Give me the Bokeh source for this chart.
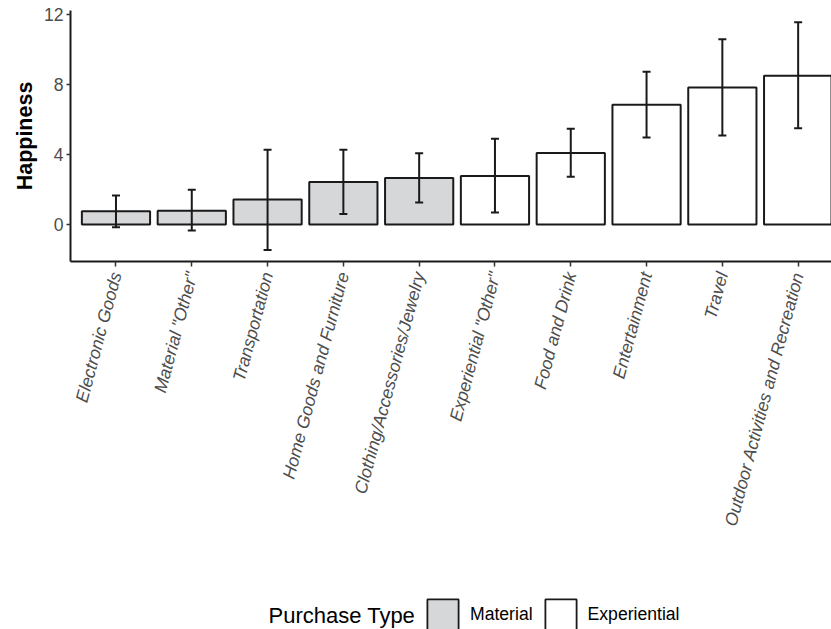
import math
from bokeh.plotting import figure
from bokeh.layouts import column
from bokeh.models import (ColumnDataSource, Range1d, FixedTicker, Whisker, TeeHead,
                          Label, Legend, LegendItem)
from bokeh.embed import file_html
from bokeh.resources import INLINE

categories = ["Electronic Goods", 'Material "Other"', "Transportation",
              "Home Goods and Furniture", "Clothing/Accessories/Jewelry",
              'Experiential "Other"', "Food and Drink", "Entertainment",
              "Travel", "Outdoor Activities and Recreation"]
purchase_type = ["Material"] * 5 + ["Experiential"] * 5
means = [0.76, 0.80, 1.43, 2.44, 2.67, 2.78, 4.10, 6.86, 7.85, 8.51]
lower = [-0.15, -0.34, -1.45, 0.61, 1.26, 0.69, 2.74, 4.99, 5.10, 5.52]
upper = [1.66, 2.00, 4.29, 4.29, 4.08, 4.91, 5.49, 8.74, 10.61, 11.58]
y_ticks = [0, 4, 8, 12]
legend_types = ["Material", "Experiential"]

type_colors = {"Material": "#D6D7D9", "Experiential": "#FFFFFF"}
positions = list(range(1, len(categories) + 1))

src = ColumnDataSource(dict(
    x=positions, mean=means, lower=lower, upper=upper, ptype=purchase_type,
    color=[type_colors[t] for t in purchase_type],
))

FONT = "Liberation Sans"
LINE = "#1A1A1A"
W = 831
LEG_H = 70
MAIN_H = 629 - LEG_H
FRAME_LEFT = 70

p = figure(width=W, height=MAIN_H, title=None,
           x_range=Range1d(0.4, 10.44), y_range=Range1d(-2.11, 12.25),
           output_backend="svg", toolbar_location=None,
           min_border_left=FRAME_LEFT, min_border_right=0, min_border_top=10,
           min_border_bottom=MAIN_H - 261)
p.outline_line_color = None
p.xgrid.visible = False
p.ygrid.visible = False
p.background_fill_color = "white"
p.border_fill_color = "white"

p.vbar(x="x", top="mean", bottom=0, width=0.9, source=src, fill_color="color",
       line_color=LINE, line_width=2)

head_kw = dict(size=8, line_width=2, line_color=LINE)
wh = Whisker(base="x", upper="upper", lower="lower", source=src,
             line_color=LINE, line_width=2,
             upper_head=TeeHead(**head_kw), lower_head=TeeHead(**head_kw))
wh.level = "annotation"
p.add_layout(wh)

# axes
xa = p.xaxis[0]
xa.ticker = FixedTicker(ticks=positions)
xa.major_label_overrides = {pos: lab for pos, lab in zip(positions, categories)}
xa.major_label_orientation = math.radians(75)
xa.major_label_text_font = FONT
xa.major_label_text_font_style = "italic"
xa.major_label_text_font_size = "17.6px"
xa.major_label_text_color = "#4D4D4D"
xa.minor_tick_line_color = None
xa.major_tick_in = 0
xa.major_tick_out = 5
xa.major_tick_line_color = "#333333"
xa.major_tick_line_width = 1.5
xa.major_label_standoff = 6
xa.axis_line_color = LINE
xa.axis_line_width = 2

ya = p.yaxis[0]
ya.ticker = FixedTicker(ticks=y_ticks)
ya.axis_label = "Happiness"
ya.axis_label_text_font = FONT
ya.axis_label_text_font_style = "bold"
ya.axis_label_text_font_size = "21.5px"
ya.axis_label_text_color = "#000000"
ya.axis_label_standoff = 4
ya.major_label_text_font = FONT
ya.major_label_text_font_size = "17.6px"
ya.major_label_text_color = "#4D4D4D"
ya.minor_tick_line_color = None
ya.major_tick_in = 0
ya.major_tick_out = 4
ya.major_tick_line_color = "#333333"
ya.major_tick_line_width = 1.5
ya.major_label_standoff = 3
ya.axis_line_color = LINE
ya.axis_line_width = 2

# legend strip below the chart (its frame is aligned with the chart's frame)
pl = figure(width=W, height=LEG_H, title=None,
            x_range=Range1d(0, 1), y_range=Range1d(0, 1),
            x_axis_location=None, y_axis_location=None,
            output_backend="svg", toolbar_location=None, min_border=0,
            min_border_left=FRAME_LEFT)
pl.outline_line_color = None
pl.xgrid.visible = False
pl.ygrid.visible = False
pl.background_fill_color = "white"
pl.border_fill_color = "white"

items = []
for t in legend_types:
    # legend proxy renderer: a single NaN point, so nothing is drawn in the strip
    r = pl.vbar(x=[float("nan")], top=[float("nan")], bottom=[float("nan")], width=1,
                fill_color=type_colors[t], line_color=LINE, line_width=1.8)
    items.append(LegendItem(label=t, renderers=[r]))

lg = Legend(items=items, location=(423 - FRAME_LEFT, -5), orientation="horizontal",
            glyph_width=39, glyph_height=39, label_standoff=8, spacing=8,
            padding=0, margin=0, border_line_alpha=0, background_fill_alpha=0,
            label_text_font=FONT, label_text_font_size="17.6px",
            label_text_color="#000000")
pl.add_layout(lg)

pl.add_layout(Label(x=268 - FRAME_LEFT, y=14, x_units="screen", y_units="screen",
                    text="Purchase Type", text_baseline="middle",
                    text_font=FONT, text_font_size="22px", text_color="#000000"))

layout = column(p, pl, spacing=0)
open("out.html", "w").write(file_html(layout, INLINE))
